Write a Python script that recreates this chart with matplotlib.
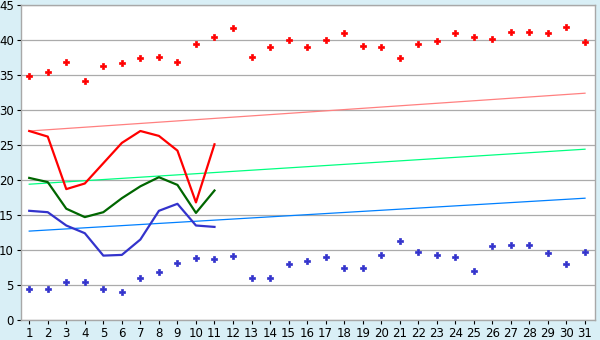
import matplotlib
matplotlib.use("Agg")
import matplotlib.pyplot as plt

days = list(range(1, 32))
first_days = list(range(1, 12))

# scattered daily values
red_points = [34.8, 35.4, 36.9, 34.2, 36.3, 36.7, 37.4, 37.5, 36.9, 39.4,
              40.4, 41.7, 37.5, 39.0, 40.0, 39.0, 40.0, 41.0, 39.2, 39.0,
              37.4, 39.4, 39.8, 41.0, 40.4, 40.1, 41.2, 41.2, 41.0, 41.8, 39.7]
blue_points = [4.4, 4.4, 5.5, 5.4, 4.5, 3.95, 5.95, 6.8, 8.2, 8.8,
               8.67, 9.1, 5.95, 5.95, 7.95, 8.38, 8.95, 7.38, 7.38, 9.24,
               11.24, 9.67, 9.24, 8.95, 6.95, 10.52, 10.67, 10.67, 9.52, 7.95, 9.67]

# lines for the first days
red_line = [27.0, 26.2, 18.7, 19.5, 22.4, 25.3, 27.0, 26.3, 24.2, 16.8, 25.1]
green_line = [20.3, 19.7, 15.9, 14.7, 15.4, 17.4, 19.1, 20.4, 19.3, 15.3, 18.5]
blue_line = [15.6, 15.4, 13.5, 12.4, 9.2, 9.3, 11.5, 15.6, 16.6, 13.5, 13.3]

# trend lines (start, end)
trend_x = [1, 31]
red_trend = [27.0, 32.4]
green_trend = [19.4, 24.4]
blue_trend = [12.7, 17.4]

fig = plt.figure(figsize=(6, 3.4), dpi=100)
fig.patch.set_facecolor("#D9EFF6")
ax = fig.add_axes([0.0345, 0.0588, 0.9572, 0.9265])
ax.set_facecolor("white")

ax.plot(trend_x, red_trend, color="#FF8080", lw=0.9, zorder=2)
ax.plot(trend_x, green_trend, color="#00FF80", lw=0.9, zorder=2)
ax.plot(trend_x, blue_trend, color="#0080FF", lw=0.9, zorder=2)

ax.plot(first_days, red_line, color="#FF0000", lw=1.6, zorder=3)
ax.plot(first_days, green_line, color="#006600", lw=1.6, zorder=3)
ax.plot(first_days, blue_line, color="#3333CC", lw=1.6, zorder=3)

ax.plot(days, red_points, ls="none", marker="P", ms=4.6, color="#FF0000",
        mec="#FF0000", mew=0.5, zorder=4)
ax.plot(days, blue_points, ls="none", marker="P", ms=4.6, color="#3333CC",
        mec="#3333CC", mew=0.5, zorder=4)

ax.set_xlim(0.54, 31.54)
ax.set_ylim(0, 45)
ax.set_xticks(days)
ax.set_yticks(range(0, 46, 5))
ax.yaxis.grid(True, color="#ABABAB", lw=0.9)
ax.set_axisbelow(True)
for s in ax.spines.values():
    s.set_color("#A8A8A8")
    s.set_linewidth(1)
ax.tick_params(axis="both", labelsize=8.5, colors="black", length=3, width=0.8, pad=2)

fig.savefig("out.png", dpi=100)
